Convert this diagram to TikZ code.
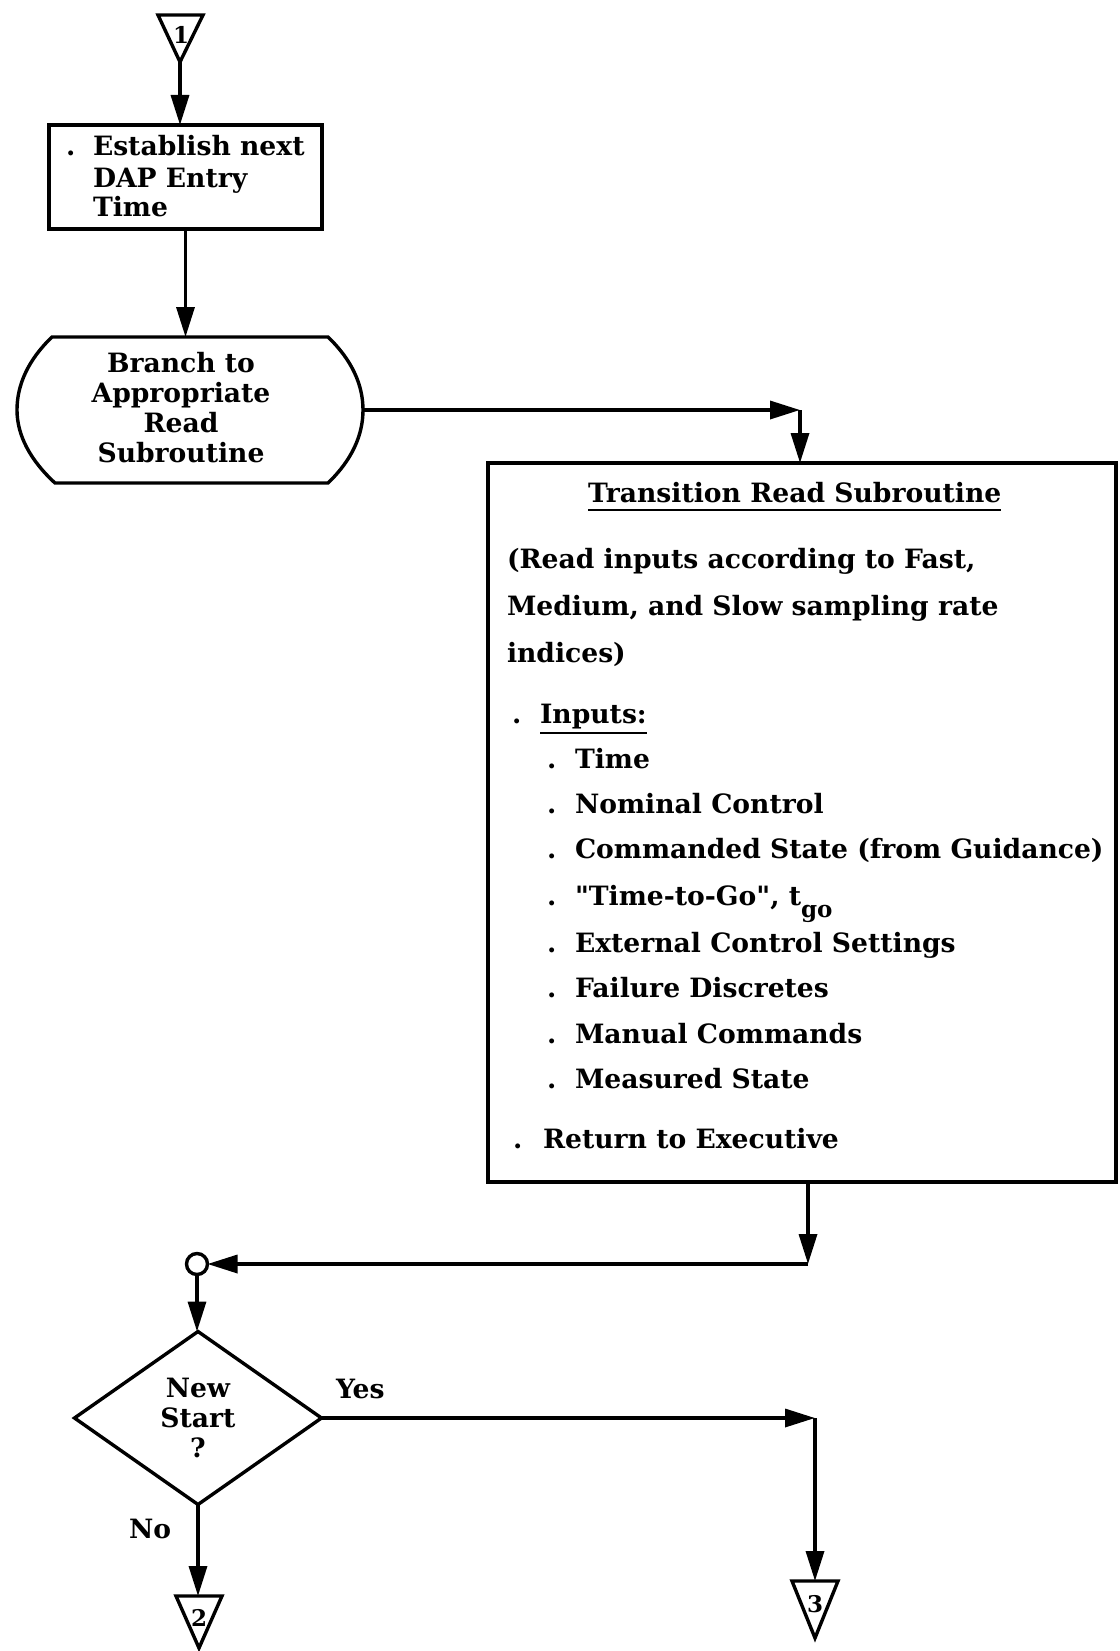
\documentclass[tikz,border=0pt]{standalone}
\usepackage{fontspec}
\setmainfont{DejaVu Serif}[Ligatures=TeXOff]
\usetikzlibrary{arrows.meta,shapes.geometric}
\begin{document}
\begin{tikzpicture}[x=1pt,y=-1pt,
  every node/.style={inner sep=0pt, outer sep=0pt},
  ln/.style={line width=3.4pt},
  arr/.style={ln, -{Triangle[length=30pt,width=18pt]}},
  txt/.style={anchor=base west, font=\fontsize{26.6}{30}\selectfont\bfseries},
  ctr/.style={align=center, font=\fontsize{26.6}{30}\selectfont\bfseries},
  lab/.style={font=\fontsize{23}{23}\selectfont\bfseries},
]
\useasboundingbox[fill=white] (0,0) rectangle (1119,1651);

% off-page connector 1
\coordinate (t1a) at (180,62);
\draw[ln, line join=miter] (158,15) -- (203,15) -- (t1a) -- cycle;
\node[lab] (t1) at (181,35) {1};

% box 1
\node[draw, ln, minimum width=273pt, minimum height=104pt] (b1) at (185.5,177) {};
\node[txt] (b1d) at (66,155) {.};
\node[txt] (b1l1) at (93,155) {Establish next};
\node[txt] (b1l2) at (93,187) {DAP Entry};
\node[txt] (b1l3) at (93,216) {Time};
\draw[arr] (t1a) -- (t1a |- b1.north);

% terminal
\node[minimum width=346pt, minimum height=146pt] (term) at (190,410) {};
\draw[ln] (52,337) -- (328,337)
  .. controls (352,360) and (363,385) .. (363,410)
  .. controls (363,435) and (352,460) .. (328,483)
  -- (55,483)
  .. controls (30,460) and (17,435) .. (17,410)
  .. controls (17,385) and (28,360) .. (52,337) -- cycle;
\node[ctr] (termtxt) at (181,408) {Branch to\\Appropriate\\Read\\Subroutine};
\draw[arr] (b1.south) -- (b1.south |- term.north);

% big box
\node[draw, ln, minimum width=628pt, minimum height=719pt] (big) at (802,822.5) {};
\node[txt] (title) at (588,502) {Transition Read Subroutine};
\draw[line width=2.5pt] ([yshift=-8pt]title.base west) -- ([yshift=-8pt]title.base east);
\node[txt] (p1) at (507,568) {(Read inputs according to Fast,};
\node[txt] (p2) at (507,615) {Medium, and Slow sampling rate};
\node[txt] (p3) at (507,662) {indices)};
\node[txt] (ind) at (512,723) {.};
\node[txt] (inp) at (540,723) {Inputs:};
\draw[line width=2.5pt] ([yshift=-10pt]inp.base west) -- ([yshift=-10pt]inp.base east);
\node[txt] (d1) at (547,768) {.};
\node[txt] (i1) at (575,768) {Time};
\node[txt] (d2) at (547,813) {.};
\node[txt] (i2) at (575,813) {Nominal Control};
\node[txt] (d3) at (547,858) {.};
\node[txt] (i3) at (575,858) {Commanded State (from Guidance)};
\node[txt] (d4) at (547,905) {.};
\node[txt] (i4) at (575,905) {"Time-to-Go", t\raisebox{-12pt}{\fontsize{23}{23}\selectfont go}};
\node[txt] (d5) at (547,952) {.};
\node[txt] (i5) at (575,952) {External Control Settings};
\node[txt] (d6) at (547,997) {.};
\node[txt] (i6) at (575,997) {Failure Discretes};
\node[txt] (d7) at (547,1043) {.};
\node[txt] (i7) at (575,1043) {Manual Commands};
\node[txt] (d8) at (547,1088) {.};
\node[txt] (i8) at (575,1088) {Measured State};
\node[txt] (dr) at (513,1148) {.};
\node[txt] (ret) at (543,1148) {Return to Executive};

\coordinate (c1) at (800,410);
\draw[arr] (term.east) -- (c1);
\draw[arr] (c1) -- (c1 |- big.north);

% return path to connector
\coordinate (c2) at (808,1264);
\node[circle, draw, ln, minimum size=21pt] (conn) at (197,1264) {};
\draw[arr] (big.south -| c2) -- (c2);
\draw[arr] (c2) -- (conn.east);

% decision
\node[diamond, draw, ln, minimum width=247pt, minimum height=173pt, ctr] (dia) at (198,1418) {New\\Start\\?};
\draw[arr] (conn.south) -- (conn.south |- dia.north);
\node[txt] (yes) at (336,1398) {Yes};
\node[txt] (no) at (129,1538) {No};

% off-page connector 3
\coordinate (t3) at (815,1581);
\draw[ln, line join=miter] (792,1581) -- (838,1581) -- (815,1638) -- cycle;
\node[lab] (t3l) at (815,1604) {3};
\coordinate (c3) at (815,1418);
\draw[arr] (dia.east) -- (c3);
\draw[arr] (c3) -- (t3);

% off-page connector 2
\coordinate (t2) at (198,1596);
\draw[ln, line join=miter] (176,1596) -- (222,1596) -- (199,1648) -- cycle;
\node[lab] (t2l) at (199,1618) {2};
\draw[arr] (dia.south) -- (t2);
\end{tikzpicture}
\end{document}
